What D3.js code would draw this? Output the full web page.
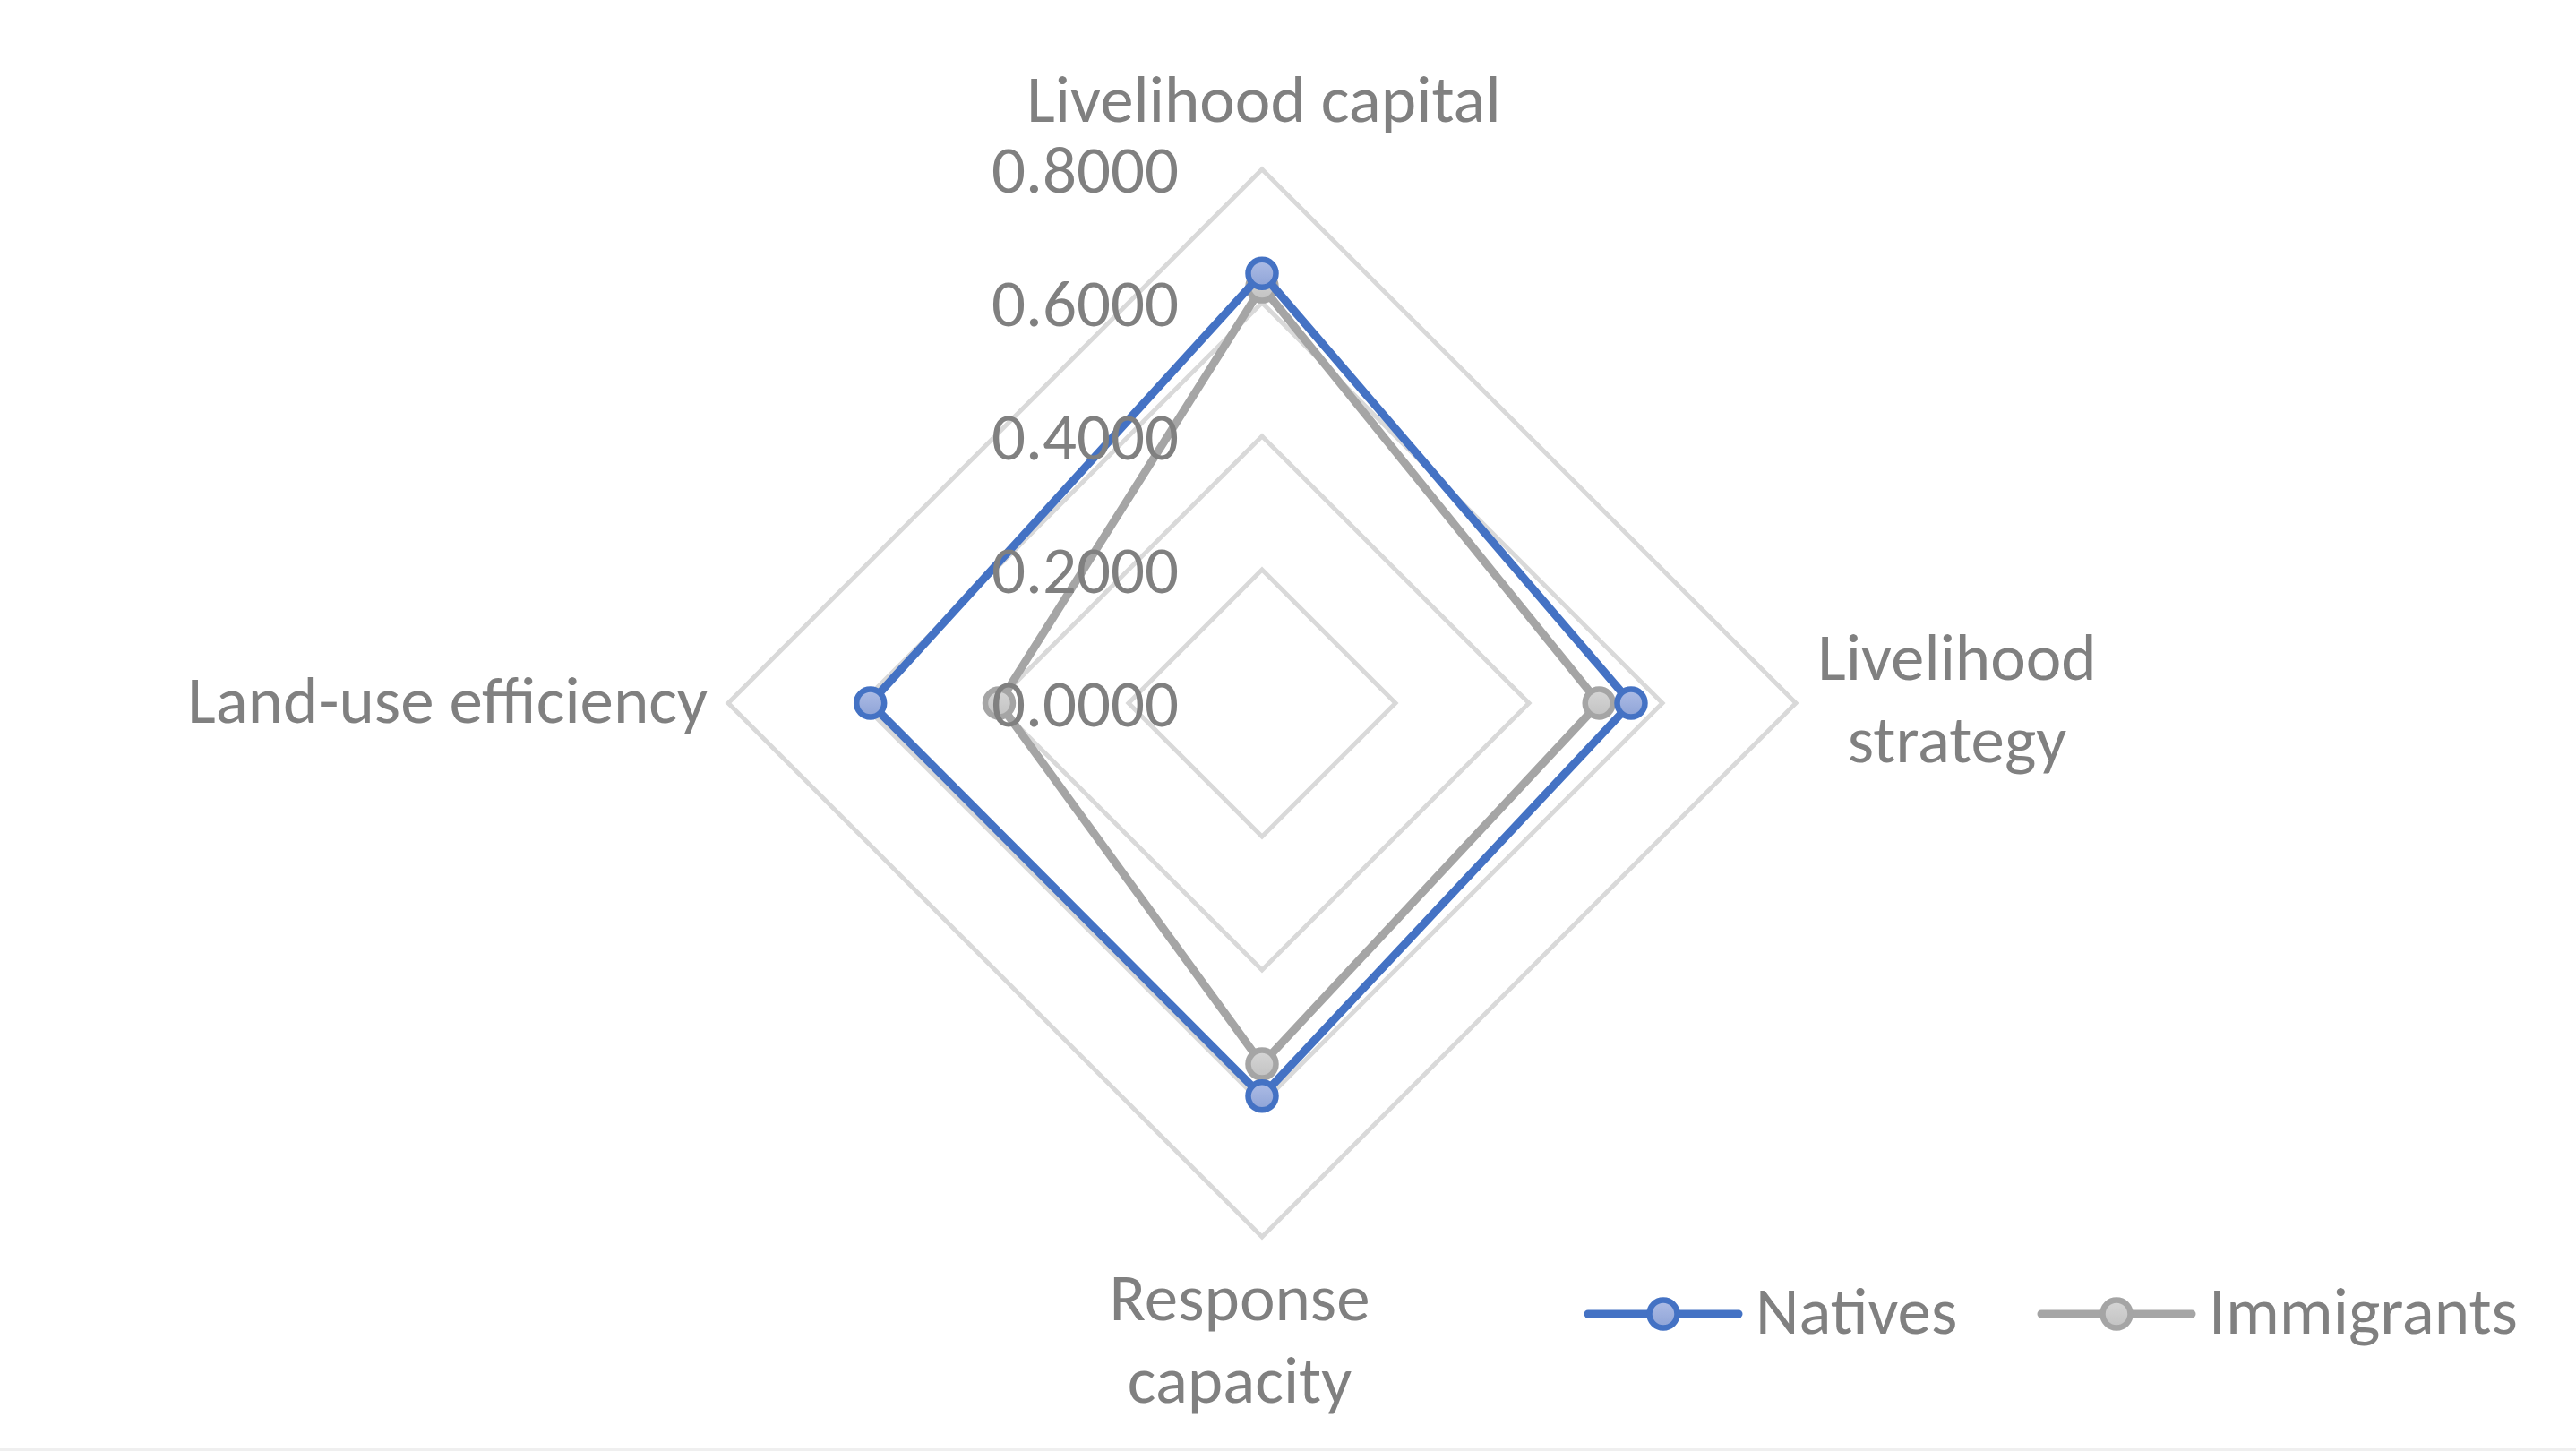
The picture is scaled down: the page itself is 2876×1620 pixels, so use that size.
<!DOCTYPE html>
<html>
<head>
<meta charset="utf-8">
<script src="https://cdn.jsdelivr.net/npm/d3@7"></script>
<style>
  html, body { margin: 0; padding: 0; background: #fff; }
  svg text { font-family: Carlito, Calibri, Lato, sans-serif; fill: #808080; }
</style>
</head>
<body>
<svg id="chart" width="2876" height="1620"></svg>
<script>
// categories, clockwise from top
const categories = ['Livelihood capital', 'Livelihood strategy', 'Response capacity', 'Land-use efficiency'];
// series values
const natives = [0.644, 0.553, 0.589, 0.587];
const immigrants = [0.624, 0.505, 0.541, 0.394];
const seriesNames = ['Natives', 'Immigrants'];
const ticks = [0, 0.2, 0.4, 0.6, 0.8];

const width = 2876, height = 1620;
const cx = 1409, cy = 785;
const R = 596;
const fontSize = 75;

const svg = d3.select('#chart');

// radial scale
const r = d3.scaleLinear().domain([0, 0.8]).range([0, R]);
const angle = i => -Math.PI / 2 + i * 2 * Math.PI / categories.length;
function pt(v, i) {
    return [cx + r(v) * Math.cos(angle(i)), cy + r(v) * Math.sin(angle(i))];
}

// faint border at the bottom
svg.append('rect').attr('x', 0).attr('y', 1617).attr('width', width).attr('height', 3).attr('fill', '#efefef');

const defs = svg.append('defs');
const grads = [
    { id: 'gNat', top: '#aebde6', bot: '#8ea3d6' },
    { id: 'gImm', top: '#d6d6d6', bot: '#c2c2c2' }
];
grads.forEach(g => {
    const lg = defs.append('linearGradient').attr('id', g.id)
        .attr('x1', 0).attr('y1', 0).attr('x2', 0).attr('y2', 1);
    lg.append('stop').attr('offset', '0%').attr('stop-color', g.top);
    lg.append('stop').attr('offset', '100%').attr('stop-color', g.bot);
});

//网格 diamonds
const line = d3.line().curve(d3.curveLinearClosed);
svg.append('g').selectAll('path')
    .data(ticks.filter(t => t > 0))
    .join('path')
    .attr('d', t => line(categories.map((c, i) => pt(t, i))))
    .attr('fill', 'none')
    .attr('stroke', '#d9d9d9')
    .attr('stroke-width', 5)
    .attr('stroke-linejoin', 'miter');

// series
const series = [
    { name: seriesNames[0], values: natives, color: '#4472c4', fill: 'url(#gNat)' },
    { name: seriesNames[1], values: immigrants, color: '#a5a5a5', fill: 'url(#gImm)' }
];

const sg = svg.append('g').selectAll('g').data(series.slice().reverse()).join('g');
sg.append('path')
    .attr('d', s => line(s.values.map((v, i) => pt(v, i))))
    .attr('fill', 'none')
    .attr('stroke', s => s.color)
    .attr('stroke-width', 9)
    .attr('stroke-linejoin', 'round');
sg.selectAll('circle')
    .data(s => s.values.map((v, i) => ({ v, i, s })))
    .join('circle')
    .attr('cx', d => pt(d.v, d.i)[0])
    .attr('cy', d => pt(d.v, d.i)[1])
    .attr('r', 15.5)
    .attr('fill', d => d.s.fill)
    .attr('stroke', d => d.s.color)
    .attr('stroke-width', 6.5);

// tick labels
const fmt = d3.format('.4f');
svg.append('g').selectAll('text')
    .data(ticks)
    .join('text')
    .attr('x', cx - 93)
    .attr('y', t => cy - r(t) + 26)
    .attr('text-anchor', 'end')
    .attr('font-size', fontSize)
    .text(t => fmt(t));

// category labels
const catLabels = [
    { lines: ['Livelihood capital'], x: cx + 2, y: cy - R - 53, anchor: 'middle' },
    { lines: ['Livelihood', 'strategy'], x: cx + 776, y: cy - 26, anchor: 'middle' },
    { lines: ['Response', 'capacity'], x: cx - 25, y: cy + R + 93, anchor: 'middle' },
    { lines: ['Land-use efficiency'], x: cx - R - 23, y: cy + 22, anchor: 'end' }
];
const cl = svg.append('g').selectAll('text')
    .data(catLabels)
    .join('text')
    .attr('text-anchor', d => d.anchor)
    .attr('font-size', fontSize);
cl.selectAll('tspan')
    .data(d => d.lines.map((l, k) => ({ l, k, d })))
    .join('tspan')
    .attr('x', t => t.d.x)
    .attr('y', t => t.d.y + t.k * 92)
    .text(t => t.l);

// legend
const legX = [1773, 2279];
const lg = svg.append('g').selectAll('g').data(series).join('g')
    .attr('transform', (s, k) => `translate(${legX[k]},1467)`);
lg.append('line')
    .attr('x1', 0).attr('x2', 168).attr('y1', 0).attr('y2', 0)
    .attr('stroke', s => s.color)
    .attr('stroke-width', 9)
    .attr('stroke-linecap', 'round');
lg.append('circle')
    .attr('cx', 84).attr('cy', 0).attr('r', 15.5)
    .attr('fill', s => s.fill)
    .attr('stroke', s => s.color)
    .attr('stroke-width', 6.5);
lg.append('text')
    .attr('x', 187).attr('y', 22)
    .attr('font-size', fontSize)
    .text(s => s.name);
</script>
</body>
</html>
